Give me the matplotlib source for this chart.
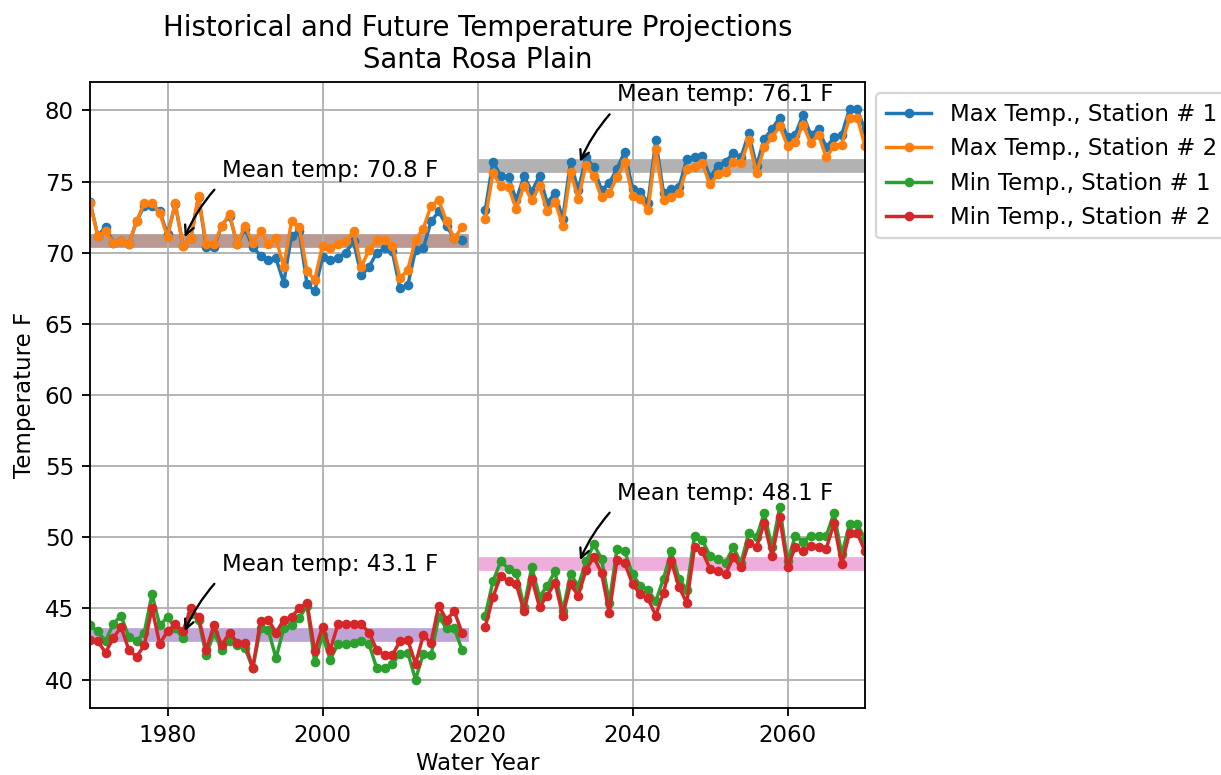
import numpy as np
import matplotlib
matplotlib.use("Agg")
import matplotlib.pyplot as plt

# 历史期与未来期的水文年
hist_years = np.arange(1970, 2019)
fut_years = np.arange(2021, 2071)

# 历史最高气温 (F)
hist_max_st1 = [73.6, 71.2, 71.8, 70.7, 70.8, 70.6, 72.2, 73.3, 73.3, 72.9,
                71.3, 73.4, 70.5, 71.0, 73.9, 70.4, 70.4, 71.9, 72.6, 70.6,
                71.7, 70.4, 69.8, 69.5, 69.6, 67.9, 71.2, 71.5, 67.8, 67.3,
                69.7, 69.5, 69.6, 70.0, 70.8, 68.4, 69.0, 70.0, 70.3, 70.1,
                67.5, 67.7, 70.2, 70.3, 72.2, 72.9, 71.9, 71.0, 70.9]
hist_max_st2 = [73.5, 71.2, 71.5, 70.7, 70.8, 70.6, 72.2, 73.5, 73.5, 72.8,
                71.1, 73.5, 70.5, 71.0, 74.0, 70.6, 70.6, 71.9, 72.7, 70.6,
                71.9, 70.7, 71.5, 70.6, 71.0, 69.0, 72.2, 71.8, 68.7, 68.1,
                70.5, 70.3, 70.6, 70.8, 71.5, 69.0, 70.2, 70.9, 70.9, 70.5,
                68.2, 68.8, 70.9, 71.7, 73.3, 73.7, 72.2, 71.0, 71.8]

# 历史最低气温 (F)
hist_min_st1 = [43.8, 43.4, 42.7, 43.9, 44.5, 43.0, 42.7, 43.3, 46.0, 43.8,
                44.4, 43.6, 42.9, 44.6, 44.2, 41.7, 43.3, 42.1, 42.7, 42.4,
                42.2, 40.8, 43.6, 43.5, 41.5, 43.6, 43.8, 44.3, 45.2, 41.2,
                43.1, 41.4, 42.5, 42.5, 42.6, 42.7, 42.5, 40.8, 40.8, 41.1,
                41.8, 41.9, 40.0, 41.8, 41.7, 44.4, 43.6, 43.6, 42.1]
hist_min_st2 = [42.8, 42.7, 41.9, 42.9, 43.7, 42.1, 41.6, 42.4, 45.0, 42.5,
                43.4, 43.9, 43.4, 45.0, 44.4, 42.1, 43.8, 42.4, 43.3, 42.6,
                42.6, 40.8, 44.1, 44.2, 43.3, 44.2, 44.4, 45.0, 45.4, 42.0,
                43.7, 42.1, 43.9, 43.9, 43.9, 43.9, 43.3, 42.1, 41.7, 41.7,
                42.7, 42.8, 41.1, 43.1, 42.6, 45.2, 44.2, 44.8, 43.3]

# 未来最高气温 (F)
fut_max_st1 = [73.0, 76.4, 75.4, 75.3, 73.7, 75.4, 74.3, 75.4, 73.5, 74.2,
               72.4, 76.4, 74.4, 76.7, 76.0, 74.4, 74.9, 75.9, 77.1, 74.5,
               74.3, 73.5, 77.9, 74.2, 74.5, 74.6, 76.6, 76.7, 76.8, 75.3,
               76.1, 76.4, 77.0, 76.7, 78.4, 76.1, 78.0, 78.7, 79.5, 78.1,
               78.3, 79.7, 78.3, 78.7, 77.4, 78.1, 78.3, 80.1, 80.1, 78.6]
fut_max_st2 = [72.4, 75.6, 74.7, 74.6, 73.1, 74.7, 73.7, 74.7, 72.9, 73.6,
               71.9, 75.7, 73.8, 76.2, 75.4, 73.9, 74.2, 75.3, 76.4, 74.0,
               73.8, 73.0, 77.3, 73.7, 73.9, 74.2, 75.9, 76.0, 76.3, 74.8,
               75.5, 75.7, 76.4, 76.3, 77.9, 75.6, 77.4, 78.1, 78.9, 77.5,
               77.8, 79.0, 77.7, 78.3, 76.7, 77.5, 77.6, 79.5, 79.5, 77.5]

# 未来最低气温 (F)
fut_min_st1 = [44.5, 46.9, 48.3, 47.8, 47.5, 45.1, 47.9, 45.8, 46.6, 47.6,
               44.8, 47.4, 46.6, 48.3, 49.5, 48.5, 45.4, 49.2, 49.0, 47.4,
               46.6, 46.3, 45.5, 47.1, 49.0, 47.1, 46.3, 50.1, 49.8, 48.7,
               48.5, 48.2, 49.3, 48.2, 50.3, 50.0, 51.7, 49.3, 52.1, 48.3,
               50.1, 49.7, 50.1, 50.1, 50.1, 51.7, 48.8, 50.9, 50.9, 49.9]
fut_min_st2 = [43.7, 45.8, 47.3, 46.9, 46.7, 44.8, 47.1, 45.1, 45.9, 46.8,
               44.5, 46.7, 45.9, 47.7, 48.6, 47.5, 44.7, 48.4, 48.2, 46.7,
               46.0, 45.7, 44.5, 46.1, 48.3, 46.5, 45.4, 49.3, 49.0, 47.8,
               47.6, 47.4, 48.6, 47.9, 49.6, 49.3, 51.0, 48.7, 51.4, 47.9,
               49.3, 49.0, 49.4, 49.3, 49.2, 51.0, 48.1, 50.3, 50.3, 49.0]

# 各时段平均温度
hist_max_mean = 70.8
fut_max_mean = 76.1
hist_min_mean = 43.1
fut_min_mean = 48.1


def join_series(hist, fut):
    # 2019-2020 无数据, 用 NaN 断开
    gap = [np.nan] * (fut_years[0] - hist_years[-1] - 1)
    return np.concatenate([hist, gap, fut])


years = np.arange(hist_years[0], fut_years[-1] + 1)

DPI = 165
fig = plt.figure(figsize=(1221 / DPI, 775 / DPI), dpi=DPI)
ax = fig.add_axes([90 / 1221, 1 - 708 / 775, 775 / 1221, 626 / 775])

series = [
    ("Max Temp., Station # 1", hist_max_st1, fut_max_st1, "C0"),
    ("Max Temp., Station # 2", hist_max_st2, fut_max_st2, "C1"),
    ("Min Temp., Station # 1", hist_min_st1, fut_min_st1, "C2"),
    ("Min Temp., Station # 2", hist_min_st2, fut_min_st2, "C3"),
]
for label, h, f, c in series:
    ax.plot(years, join_series(h, f), marker="o", markersize=3.2, color=c, label=label)

# 平均温度带
bands = [
    (hist_years, hist_max_mean, "C5"),
    (fut_years, fut_max_mean, "C7"),
    (hist_years, hist_min_mean, "C4"),
    (fut_years, fut_min_mean, "C6"),
]
for yrs, m, c in bands:
    ax.plot([yrs[0], yrs[-1]], [m, m], lw=6, alpha=0.6, color=c, zorder=1)
    ax.annotate(f"Mean temp: {m} F", xy=(yrs[0] + 12, m),
                xytext=(yrs[0] + 17, m + 5), va="center",
                arrowprops=dict(arrowstyle="->", connectionstyle="arc3,rad=0.1",
                                relpos=(0, 0), color="black"))

ax.set_xlim(1970, 2070)
ax.set_ylim(38, 82)
ax.grid(True)
ax.set_xlabel("Water Year", labelpad=2)
ax.set_ylabel("Temperature F")
ax.set_title("Historical and Future Temperature Projections\nSanta Rosa Plain")
ax.legend(loc="upper left", bbox_to_anchor=(1, 1))

fig.savefig("out.png", dpi=DPI)
